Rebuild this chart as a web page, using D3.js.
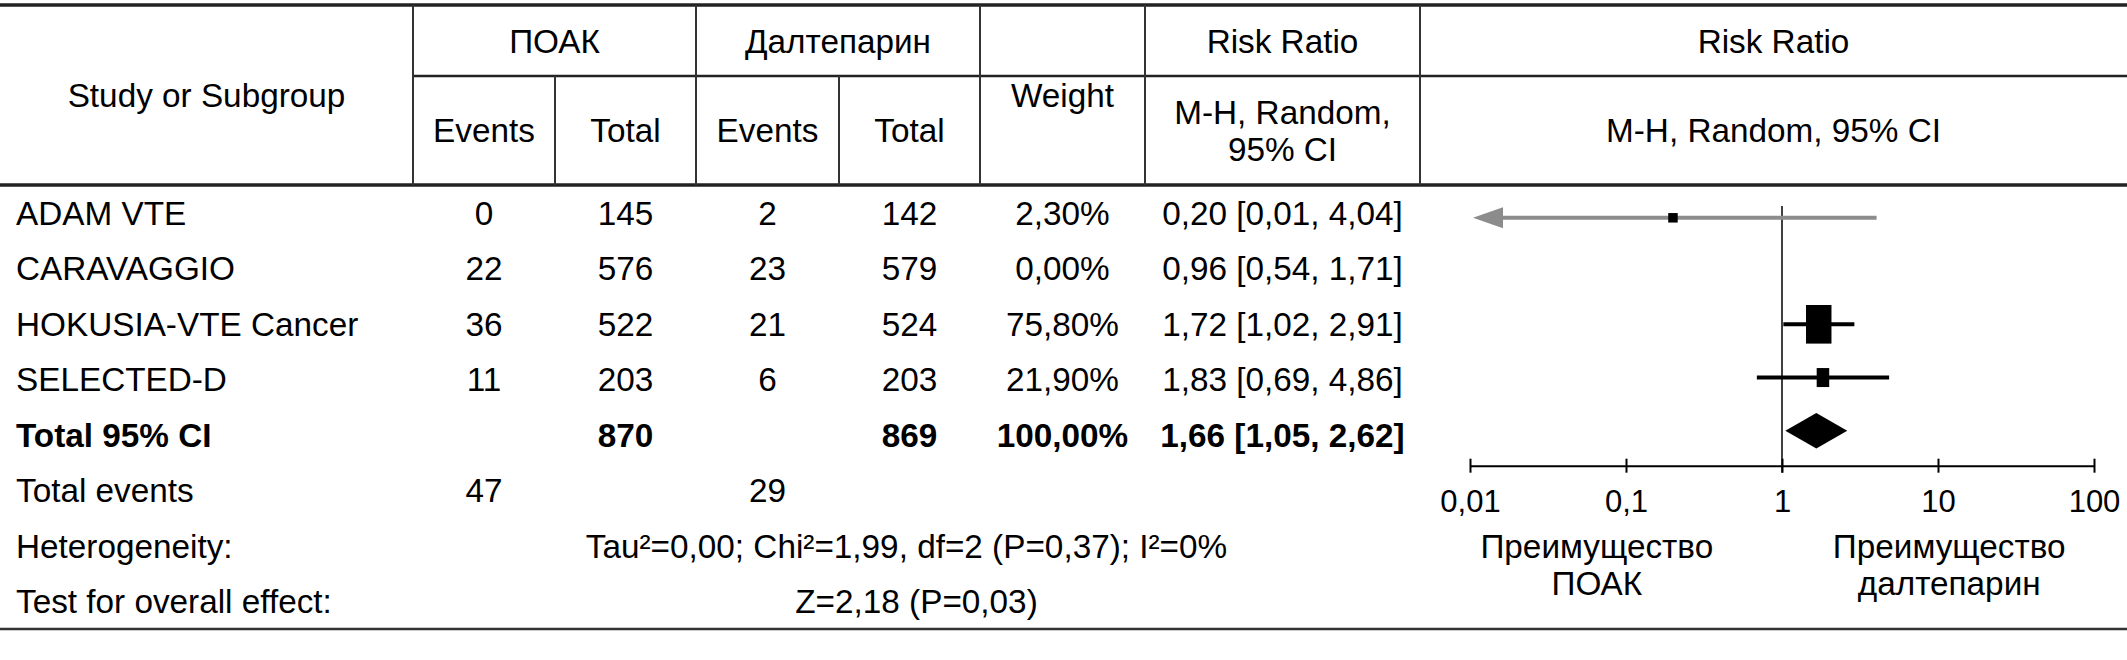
<!DOCTYPE html>
<html>
<head>
<meta charset="utf-8">
<script src="https://cdn.jsdelivr.net/npm/d3@7"></script>
<style>
  html, body { margin: 0; padding: 0; background: #fff; }
  svg { display: block; }
  text { font-family: "Liberation Sans", Arial, sans-serif; fill: #000; }
</style>
</head>
<body>
<svg id="chart" width="2127" height="660"></svg>
<script>
// ---------- data ----------
const studies    = ["ADAM VTE", "CARAVAGGIO", "HOKUSIA-VTE Cancer", "SELECTED-D"];
const doacEvents = [0, 22, 36, 11];
const doacTotal  = [145, 576, 522, 203];
const daltEvents = [2, 23, 21, 6];
const daltTotal  = [142, 579, 524, 203];
const weights    = [2.30, 0.00, 75.80, 21.90];
const rr         = [0.20, 0.96, 1.72, 1.83];
const rrLow      = [0.01, 0.54, 1.02, 0.69];
const rrHigh     = [4.04, 1.71, 2.91, 4.86];

const totalLabel   = "Total 95% CI";
const totalN       = [870, 869];
const totalWeight  = 100.00;
const totalRR      = [1.66, 1.05, 2.62];   // estimate, low, high
const totalEvents  = [47, 29];
const heterogeneity = "Tau²=0,00; Chi²=1,99, df=2 (P=0,37); I²=0%";
const overallEffect = "Z=2,18 (P=0,03)";

const axisTicks  = [0.01, 0.1, 1, 10, 100];
const tickLabels = ["0,01", "0,1", "1", "10", "100"];
const favourLeft  = ["Преимущество", "ПОАК"];
const favourRight = ["Преимущество", "далтепарин"];

// ---------- helpers ----------
const W = 2127, H = 660;
const FS = 33.3;
const LINE = "#222";
const comma = v => d3.format(".2f")(v).replace(".", ",");
const pct = v => comma(v) + "%";
const ci = (e, l, h) => `${comma(e)} [${comma(l)}, ${comma(h)}]`;

const svg = d3.select("#chart");
svg.append("rect").attr("width", W).attr("height", H).attr("fill", "#fff");

// column boundaries
const cols = [0, 413, 555, 696, 839, 980, 1145, 1420, W];
const mid = i => (cols[i] + cols[i + 1]) / 2;

// ---------- table grid ----------
const g = svg.append("g");
function hline(y, x1, x2, w, c) {
  g.append("line").attr("x1", x1).attr("x2", x2).attr("y1", y).attr("y2", y)
    .attr("stroke", c || LINE).attr("stroke-width", w);
}
function vline(x, y1, y2, w) {
  g.append("line").attr("x1", x).attr("x2", x).attr("y1", y1).attr("y2", y2)
    .attr("stroke", "#333").attr("stroke-width", w);
}
hline(5, 0, W, 3.3);
hline(76, cols[1], W, 2.5);
hline(185, 0, W, 3.3);
hline(629, 0, W, 2.4, "#333");
vline(cols[1], 5, 185, 2);
vline(cols[2], 76, 185, 2);
vline(cols[3], 5, 185, 2);
vline(cols[4], 76, 185, 2);
vline(cols[5], 5, 185, 2);
vline(cols[6], 5, 185, 2);
vline(cols[7], 5, 185, 2);

// ---------- header text ----------
function txt(x, y, s, opts) {
  opts = opts || {};
  return g.append("text").attr("x", x).attr("y", y)
    .attr("text-anchor", opts.anchor || "middle")
    .attr("font-size", opts.size || FS)
    .attr("font-weight", opts.bold ? "bold" : "normal")
    .text(s);
}
txt(mid(0), 107, "Study or Subgroup");
txt((cols[1] + cols[3]) / 2, 53, "ПОАК");
txt((cols[3] + cols[5]) / 2, 53, "Далтепарин");
txt(mid(1), 142, "Events");
txt(mid(2), 142, "Total");
txt(mid(3), 142, "Events");
txt(mid(4), 142, "Total");
txt(mid(5), 107, "Weight");
txt(mid(6), 53, "Risk Ratio");
txt(mid(6), 124, "M-H, Random,");
txt(mid(6), 161, "95% CI");
txt(mid(7), 53, "Risk Ratio");
txt(mid(7), 142, "M-H, Random, 95% CI");

// ---------- body text ----------
const rowY = d3.scaleLinear().domain([0, 7]).range([225, 613]);
studies.forEach((s, i) => {
  const y = rowY(i);
  txt(16, y, s, { anchor: "start" });
  txt(mid(1), y, doacEvents[i]);
  txt(mid(2), y, doacTotal[i]);
  txt(mid(3), y, daltEvents[i]);
  txt(mid(4), y, daltTotal[i]);
  txt(mid(5), y, pct(weights[i]));
  txt(mid(6), y, ci(rr[i], rrLow[i], rrHigh[i]));
});
{
  const y = rowY(4);
  txt(16, y, totalLabel, { anchor: "start", bold: true });
  txt(mid(2), y, totalN[0], { bold: true });
  txt(mid(4), y, totalN[1], { bold: true });
  txt(mid(5), y, pct(totalWeight), { bold: true });
  txt(mid(6), y, ci(totalRR[0], totalRR[1], totalRR[2]), { bold: true });
}
txt(16, rowY(5), "Total events", { anchor: "start" });
txt(mid(1), rowY(5), totalEvents[0]);
txt(mid(3), rowY(5), totalEvents[1]);
txt(16, rowY(6), "Heterogeneity:", { anchor: "start" });
txt((cols[1] + cols[7]) / 2 - 10, rowY(6), heterogeneity);
txt(16, rowY(7), "Test for overall effect:", { anchor: "start" });
txt((cols[1] + cols[7]) / 2, rowY(7), overallEffect);

// ---------- forest plot ----------
const x = d3.scaleLog().domain([0.01, 100]).range([1470, 2094]);
const fy = d3.scalePoint().domain(d3.range(5)).range([217.8, 430.8]);
const axisY = 465.7;
const fp = svg.append("g");

// line of no effect
fp.append("line").attr("x1", x(1)).attr("x2", x(1)).attr("y1", 206).attr("y2", axisY + 7)
  .attr("stroke", "#000").attr("stroke-width", 1.5);

// marker size from weight
const hScale = d3.scalePow().exponent(0.571).domain([0, 100]).range([0, 3.26 * Math.pow(100, 0.571)]);
const wScale = d3.scalePow().exponent(0.571).domain([0, 100]).range([0, 2.15 * Math.pow(100, 0.571)]);
const MIN = 9.5;
const GREY = "#8c8c8c";

studies.forEach((s, i) => {
  if (weights[i] <= 0) return;
  const y = fy(i);
  const lo = Math.max(rrLow[i], x.domain()[0]);
  const hi = Math.min(rrHigh[i], x.domain()[1]);
  const clipped = rrLow[i] <= x.domain()[0];
  const col = clipped ? GREY : "#000";
  const arrowLen = 30;
  const xStart = clipped ? x(lo) + arrowLen : x(lo);
  fp.append("line").attr("x1", xStart).attr("x2", x(hi)).attr("y1", y).attr("y2", y)
    .attr("stroke", col).attr("stroke-width", 4);
  if (clipped) {
    const tip = x(lo) + 3;
    fp.append("path")
      .attr("d", `M${tip},${y} L${tip + arrowLen},${y - 10.5} L${tip + arrowLen},${y + 10.5} Z`)
      .attr("fill", col);
  }
  const hh = Math.max(MIN, hScale(weights[i]));
  const ww = Math.max(MIN, wScale(weights[i]));
  fp.append("rect").attr("x", x(rr[i]) - ww / 2).attr("y", y - hh / 2)
    .attr("width", ww).attr("height", hh).attr("fill", "#000");
});

// total diamond
{
  const y = fy(4);
  const dh = 17.7;
  fp.append("path")
    .attr("d", `M${x(totalRR[1])},${y} L${x(totalRR[0])},${y - dh} L${x(totalRR[2])},${y} L${x(totalRR[0])},${y + dh} Z`)
    .attr("fill", "#000");
}

// axis
const axis = d3.axisBottom(x).tickValues(axisTicks)
  .tickFormat((d, i) => tickLabels[i]).tickSizeInner(7).tickSizeOuter(0);
const ag = fp.append("g").attr("transform", `translate(0,${axisY})`).call(axis);
ag.select(".domain").attr("stroke", "#000").attr("stroke-width", 2);
ag.selectAll(".tick line").attr("y1", -7).attr("y2", 7).attr("stroke", "#000").attr("stroke-width", 2);
ag.selectAll(".tick text").attr("y", 46).attr("dy", 0)
  .attr("font-size", 31).attr("font-family", "\"Liberation Sans\", Arial, sans-serif").attr("fill", "#000");

// favour labels
const fl = x(0.065), fr = x(11.8);
[[fl, favourLeft], [fr, favourRight]].forEach(([cx, lines]) => {
  lines.forEach((s, j) => {
    fp.append("text").attr("x", cx).attr("y", 558.3 + j * 36.7)
      .attr("text-anchor", "middle").attr("font-size", 33.3).text(s);
  });
});
</script>
</body>
</html>
